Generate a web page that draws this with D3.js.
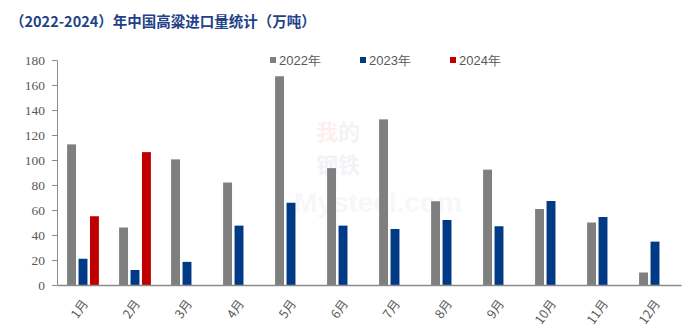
<!DOCTYPE html>
<html>
<head>
<meta charset="utf-8">
<script src="https://cdn.jsdelivr.net/npm/d3@7"></script>
<style>
  body { margin: 0; background: #fff; }
  svg { display: block; }
</style>
</head>
<body>
<svg id="chart" width="700" height="332"></svg>
<script>
const months = ['1月', '2月', '3月', '4月', '5月', '6月', '7月', '8月', '9月', '10月', '11月', '12月']
const years = ['2022年', '2023年', '2024年']
const v2022 = [112.5, 46, 100.5, 82, 167, 93.5, 132.5, 67, 92.3, 60.8, 50, 10]
const v2023 = [21, 12, 18.5, 47.5, 65.8, 47.5, 44.8, 52, 47, 67.2, 54.4, 34.7]
const v2024 = [55, 106.3, null, null, null, null, null, null, null, null, null, null]
const yTicks = [0, 20, 40, 60, 80, 100, 120, 140, 160, 180]
const colors = ['#7f7f7f', '#003a87', '#c00000']

const svg = d3.select('#chart')
const plotLeft = 57, plotRight = 681, plotTop = 60, plotBottom = 285

const x0 = d3.scaleBand().domain(months).range([plotLeft, plotRight]).paddingInner(0.34).paddingOuter(0.17)
const x1 = d3.scaleBand().domain(years).range([0, x0.bandwidth()]).paddingInner(0.22).paddingOuter(0.11)
const y = d3.scaleLinear().domain([0, 180]).range([plotBottom, plotTop])

// title
svg.append('text')
    .attr('x', 10).attr('y', 27)
    .attr('fill', '#1f4287')
    .style('font', 'bold 14.5px "Noto Sans CJK SC", sans-serif')
    .text('（2022-2024）年中国高粱进口量统计（万吨）')

// faint watermark
const wm = svg.append('g').attr('opacity', 0.06)
const wmTop = wm.append('text').attr('x', 316).attr('y', 140)
    .style('font', 'bold 22px "Noto Sans CJK SC"')
wmTop.append('tspan').attr('fill', '#e00000').text('我')
wmTop.append('tspan').attr('fill', '#1f3f7a').text('的')
wm.append('text').attr('x', 316).attr('y', 173).attr('fill', '#1f3f7a')
    .style('font', 'bold 22px "Noto Sans CJK SC"').text('钢铁')
wm.append('text').attr('x', 294).attr('y', 212).attr('fill', '#888')
    .style('font', 'bold 28px Arial, "Liberation Sans"').text('Mysteel.com')

// y axis
const yAxis = svg.append('g')
    .attr('transform', `translate(${plotLeft},0)`)
    .call(d3.axisLeft(y).tickValues(yTicks).tickSize(5).tickPadding(7))
yAxis.select('.domain').attr('stroke', '#8c8c8c')
yAxis.selectAll('.tick line').attr('stroke', '#8c8c8c')
yAxis.selectAll('.tick text')
    .attr('fill', '#595959')
    .style('font', '13.5px "Liberation Serif", serif')

// bars
const rows = months.map((m, i) => ({ m, vals: [v2022[i], v2023[i], v2024[i]] }))
const groups = svg.selectAll('g.month').data(rows).enter()
    .append('g').classed('month', true)
    .attr('transform', d => `translate(${x0(d.m)},0)`)

groups.selectAll('rect')
    .data(d => d.vals.map((v, j) => ({ v, j })).filter(d => d.v != null))
    .enter().append('rect')
    .attr('x', d => x1(years[d.j]))
    .attr('width', x1.bandwidth())
    .attr('y', d => y(d.v))
    .attr('height', d => y(0) - y(d.v))
    .attr('fill', d => colors[d.j])

// x axis
const xAxis = svg.append('g')
    .attr('transform', `translate(0,${plotBottom})`)
    .call(d3.axisBottom(x0).tickSize(0).tickSizeOuter(0).tickPadding(0))
xAxis.select('.domain').attr('stroke', '#8c8c8c').attr('stroke-width', 1.5)
xAxis.selectAll('.tick text')
    .attr('fill', '#595959')
    .style('font', '12.5px "Noto Sans CJK SC", sans-serif')
    .attr('text-anchor', 'end')
    .attr('dy', '0.35em')
    .attr('transform', 'translate(2,16) rotate(-55)')

// legend
const legend = svg.selectAll('g.legend').data(years).enter()
    .append('g').classed('legend', true)
    .attr('transform', (d, i) => `translate(${270 + i * 90},60)`)
legend.append('rect')
    .attr('x', 0).attr('y', -3).attr('width', 6).attr('height', 6)
    .attr('fill', (d, i) => colors[i])
legend.append('text')
    .attr('x', 9).attr('dy', '0.35em')
    .attr('fill', '#595959')
    .style('font', '13px "Liberation Sans", Arial, sans-serif')
    .text(d => d)
</script>
</body>
</html>
